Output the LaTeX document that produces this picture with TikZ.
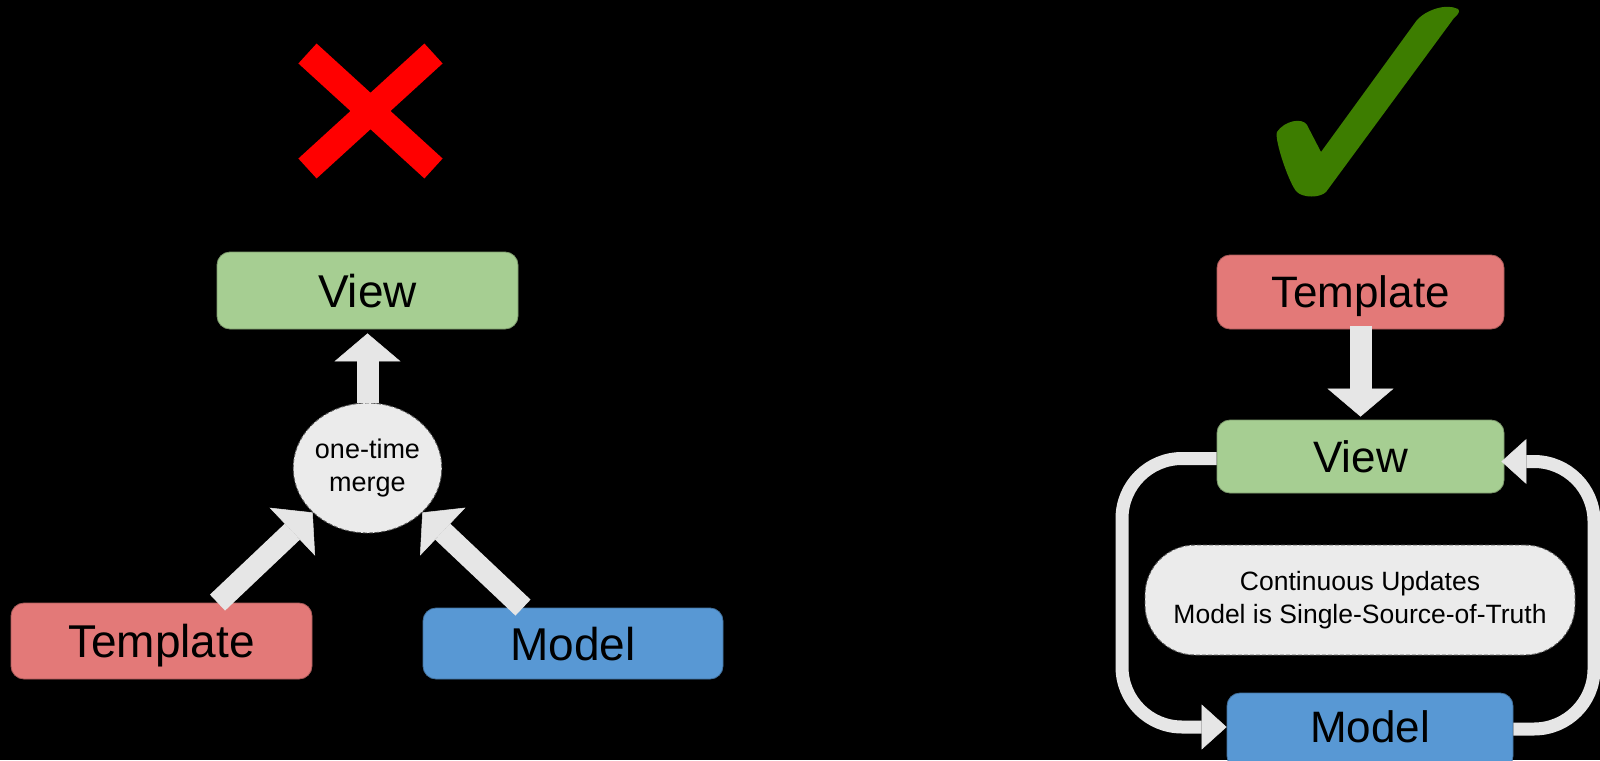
\documentclass[tikz,border=0pt]{standalone}
\usepackage{fontspec}
\setmainfont{Liberation Sans}
\usetikzlibrary{arrows.meta,shapes.geometric,calc}
\definecolor{vgreen}{HTML}{A6CE92}
\definecolor{tred}{HTML}{E37978}
\definecolor{mblue}{HTML}{5898D4}
\definecolor{agray}{HTML}{E6E6E6}
\definecolor{bubble}{HTML}{EBEBEB}
\definecolor{dashgray}{HTML}{555555}
\definecolor{xred}{HTML}{FF0000}
\definecolor{checkgreen}{HTML}{3D7D00}
\begin{document}
\begin{tikzpicture}[x=1pt,y=-1pt,
  box/.style={rounded corners=13pt, draw=#1!75!black, fill=#1, line width=0.8pt,
    inner sep=0pt, text=black},
  bigL/.style={font=\fontsize{46}{50}\selectfont, text height=33pt, text depth=0pt},
  bigR/.style={font=\fontsize{44}{50}\selectfont, text height=31.5pt, text depth=0pt},
  bubblestyle/.style={draw=dashgray, dashed, dash pattern=on 4pt off 2pt, line width=0.9pt,
    fill=bubble, inner sep=0pt, align=center, text=black},
  fatarrow/.style={draw=agray, line width=22pt,
    -{Triangle[width=66pt,length=28pt,line width=0.5pt]}},
  looparrow/.style={draw=agray, line width=13pt, rounded corners=60pt,
    -{Triangle[width=45pt,length=25pt,line width=0.5pt]}}]
\fill[black] (0,0) rectangle (1600,760);
\useasboundingbox (0,0) rectangle (1600,760);

% ---------- left: red cross ----------
\draw[xred, line width=27pt] (307.5,53.5) -- (433.5,168.5);
\draw[xred, line width=27pt] (433.5,53.5) -- (307.5,168.5);

% ---------- left diagram ----------
\node[box=vgreen, bigL, minimum width=301pt, minimum height=77pt] (lview) at (367.5,290.5) {View};
\node[box=tred, bigL, minimum width=301pt, minimum height=76pt] (ltemp) at (161.5,641) {Template};
\node[box=mblue, bigL, minimum width=300pt, minimum height=71pt] (lmodel) at (573,643.5) {Model};
\node[bubblestyle, ellipse, minimum width=147pt, minimum height=130pt,
  font=\fontsize{27}{33}\selectfont] (lmerge) at (367.5,468) {one-time\\merge};

\draw[fatarrow, shorten >=4pt] (lmerge.north) -- (lview.south);
\draw[fatarrow] ([xshift=56pt]ltemp.north) -- (lmerge.219);
\draw[fatarrow] ([xshift=-50pt]lmodel.north) -- (lmerge.321);

% ---------- right: green check ----------
\fill[checkgreen] (1458,9) .. controls (1446,3) and (1426,10) .. (1417,20)
  -- (1321,152) -- (1307,125) .. controls (1302,117) and (1284,121) .. (1277,132)
  .. controls (1274,140) and (1290,186) .. (1297,192)
  .. controls (1303,198) and (1320,198) .. (1326,192)
  -- (1454,18) .. controls (1459,14) and (1460,11) .. cycle;

% ---------- right diagram ----------
\node[box=tred, bigR, minimum width=287pt, minimum height=74pt] (rtemp) at (1360.5,292) {Template};
\node[box=vgreen, bigR, minimum width=287pt, minimum height=73pt] (rview) at (1360.5,456.5) {View};
\node[box=mblue, bigR, text depth=8pt, minimum width=286pt, minimum height=76pt] (rmodel) at (1370,731) {Model};
\node[bubblestyle, rounded corners=50pt, minimum width=430pt, minimum height=110pt,
  font=\fontsize{26.5}{33}\selectfont] (rupd) at (1360,600)
  {Continuous Updates\\Model is Single-Source-of-Truth};

\coordinate (lb) at (1122,727);
\coordinate (rt) at (1594,461.5);

\draw[fatarrow, shorten <=-3pt, shorten >=3pt] (rtemp.south) -- (rview.north);
\draw[looparrow] ([yshift=-2pt]rview.west) -| (lb) -- ([yshift=4pt]rmodel.west);
\draw[looparrow, shorten >=-3pt] ([yshift=2pt]rmodel.east) -| (rt) -- ([yshift=-5pt]rview.east);
\end{tikzpicture}
\end{document}
